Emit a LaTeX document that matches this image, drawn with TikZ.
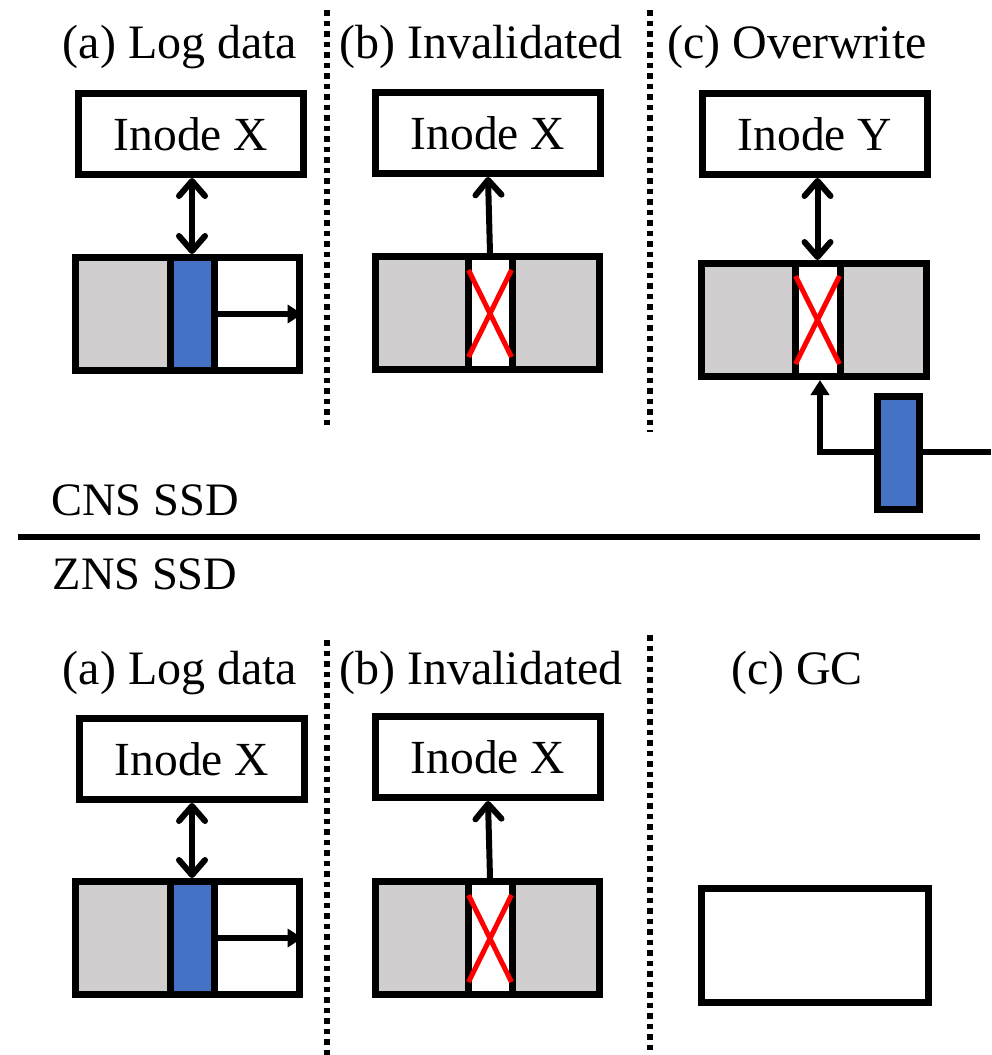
\documentclass[tikz,border=0pt]{standalone}
\usepackage{fontspec}
\setmainfont{Liberation Serif}
\newfontfamily\figserif{Liberation Serif}
\usetikzlibrary{arrows.meta,calc}

\definecolor{blkgray}{HTML}{D0CECE}
\definecolor{logblue}{HTML}{4472C4}
\definecolor{xred}{HTML}{FF0000}

\tikzset{
  lbl/.style={inner sep=0pt, font=\figserif\fontsize{48}{56}\selectfont},
  sidelbl/.style={inner sep=0pt, font=\figserif\fontsize{46.5}{55}\selectfont},
  inodebox/.style={draw, line width=7pt, fill=white, inner sep=0pt,
    minimum width=225pt, minimum height=81pt, font=\figserif\fontsize{47.5}{55}\selectfont},
  seg/.style={draw, line width=7pt, inner sep=0pt, minimum height=113pt},
  grayseg/.style={seg, fill=blkgray},
  blueseg/.style={seg, fill=logblue},
  whiteseg/.style={seg, fill=white},
  conn/.style={line width=6pt},
  barb/.tip={Straight Barb[length=15pt,width=26pt,line cap=round,line join=round]},
  tri/.tip={Triangle[length=15pt,width=18pt]},
  xmark/.style={draw=xred, line width=5pt},
  divider/.style={line width=6pt, dash pattern=on 5.5pt off 5pt},
  sepline/.style={line width=6pt}
}

\begin{document}
\begin{tikzpicture}[x=1pt,y=-1pt]
\useasboundingbox (0,0) rectangle (991,1055);

% ---------- panel dividers ----------
\coordinate (d1t) at (327,10);   \coordinate (d1b) at (327,427);
\coordinate (d2t) at (650,10);   \coordinate (d2b) at (650,432);
\coordinate (d3t) at (327,640);  \coordinate (d3b) at (327,1055);
\coordinate (d4t) at (650,635);  \coordinate (d4b) at (650,1055);
\draw[divider] (d1t) -- (d1b);
\draw[divider] (d2t) -- (d2b);
\draw[divider] (d3t) -- (d3b);
\draw[divider] (d4t) -- (d4b);

% ---------- CNS / ZNS separator ----------
\node[sidelbl] (cns) at (145,500) {CNS SSD};
\node[sidelbl] (zns) at (145,574) {ZNS SSD};
\coordinate (sl) at (18,537);
\coordinate (sr) at (980,537);
\draw[sepline] (sl) -- (sr);

% ================= CNS SSD =================
% (a) Log data
\node[lbl] (ta) at (180,47) {(a) Log data};
\node[inodebox] (ia) at (191,134) {Inode X};
\node[grayseg,  minimum width=95pt] (a1) at (122.5,314) {};
\node[whiteseg, minimum width=85pt] (a3) at (256.5,314) {};
\node[blueseg,  minimum width=44pt] (a2) at (192,314) {};
\draw[conn, barb-barb] (ia.south -| a2.north) -- (a2.north);
\draw[conn, -tri] (a2.east) -- (a3.east);

% (b) Invalidated
\node[lbl] (tb) at (481,47) {(b) Invalidated};
\node[inodebox] (ib) at (488,133) {Inode X};
\node[grayseg,  minimum width=93pt] (b1) at (421.5,313) {};
\node[grayseg,  minimum width=87pt] (b3) at (555.5,313) {};
\node[whiteseg, minimum width=44pt] (b2) at (490,313) {};
\draw[conn, -barb] (b2.north) -- ([xshift=-2pt]ib.south -| b2.north);
\draw[xmark] ([shift={(4,17)}]b2.north west) -- ([shift={(-4,-16)}]b2.south east);
\draw[xmark] ([shift={(-4,17)}]b2.north east) -- ([shift={(4,-16)}]b2.south west);

% (c) Overwrite
\node[lbl] (tc) at (797,47) {(c) Overwrite};
\node[inodebox] (ic) at (815,134) {Inode Y};
\node[grayseg,  minimum width=94pt] (c1) at (748,320) {};
\node[grayseg,  minimum width=86pt] (c3) at (883,320) {};
\node[whiteseg, minimum width=45pt] (c2) at (817.5,320) {};
\draw[conn, barb-barb] (ic.south -| c2.north) -- (c2.north);
\draw[xmark] ([shift={(4,16)}]c2.north west) -- ([shift={(-4,-16)}]c2.south east);
\draw[xmark] ([shift={(-4,16)}]c2.north east) -- ([shift={(4,-16)}]c2.south west);
\node[blueseg, minimum width=42pt] (cw) at (898,453) {};
\coordinate (cin) at (991,452);
\draw[conn] (cin) -- (cw.east |- cin);
\draw[conn, -tri] (cw.west |- cin) -| ([xshift=2.5pt]c2.south);

% ================= ZNS SSD =================
% (a) Log data
\node[lbl] (za) at (180,673) {(a) Log data};
\node[inodebox] (zia) at (192,759) {Inode X};
\node[grayseg,  minimum width=95pt] (za1) at (122.5,938) {};
\node[whiteseg, minimum width=85pt] (za3) at (256.5,938) {};
\node[blueseg,  minimum width=44pt] (za2) at (192,938) {};
\draw[conn, barb-barb] (zia.south -| za2.north) -- (za2.north);
\draw[conn, -tri] (za2.east) -- (za3.east);

% (b) Invalidated
\node[lbl] (zb) at (481,673) {(b) Invalidated};
\node[inodebox] (zib) at (488,757) {Inode X};
\node[grayseg,  minimum width=93pt] (zb1) at (421.5,938) {};
\node[grayseg,  minimum width=87pt] (zb3) at (555.5,938) {};
\node[whiteseg, minimum width=44pt] (zb2) at (490,938) {};
\draw[conn, -barb] (zb2.north) -- ([xshift=-2pt]zib.south -| zb2.north);
\draw[xmark] ([shift={(4,17)}]zb2.north west) -- ([shift={(-4,-16)}]zb2.south east);
\draw[xmark] ([shift={(-4,17)}]zb2.north east) -- ([shift={(4,-16)}]zb2.south west);

% (c) GC
\node[lbl] (zc) at (797,673) {(c) GC};
\node[draw, line width=7pt, fill=white, minimum width=227pt, minimum height=114pt] (zgc) at (814.5,945) {};
\end{tikzpicture}
\end{document}
